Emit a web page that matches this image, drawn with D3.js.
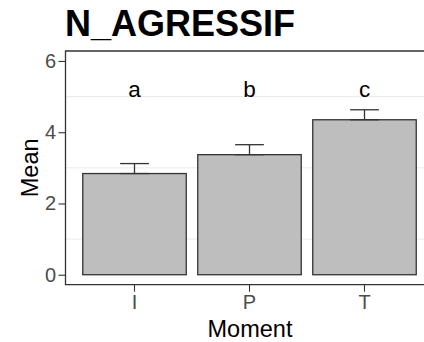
<!DOCTYPE html>
<html>
<head>
<meta charset="utf-8">
<script src="https://cdn.jsdelivr.net/npm/d3@7"></script>
<style>
  body { margin: 0; background: #fff; }
  text { font-family: "Liberation Sans", Arial, sans-serif; }
</style>
</head>
<body>
<svg id="chart" width="424" height="342"></svg>
<script>
// data
const moments = ["I", "P", "T"];
const means = [2.84, 3.37, 4.35];
const errors = [0.28, 0.28, 0.28];
const letters = ["a", "b", "c"];
const letterY = 5.2;
const yTicks = [0, 2, 4, 6];
const yMinor = [1, 3, 5];

const svg = d3.select("#chart");
const W = 424, H = 342;
const panel = { left: 65.5, top: 51, bottom: 284.7 };
const font = "Liberation Sans, Arial, sans-serif";

const x = d3.scaleBand()
    .domain(moments)
    .range([panel.left, panel.left + 368])
    .paddingInner(0.1)
    .paddingOuter(0.15);

const y = d3.scaleLinear()
    .domain([-0.28, 6.28])
    .range([panel.bottom, panel.top]);

// minor grid
svg.append("g")
    .selectAll("line")
    .data(yMinor)
    .join("line")
    .attr("x1", panel.left).attr("x2", W)
    .attr("y1", d => y(d)).attr("y2", d => y(d))
    .attr("stroke", "#ebebeb")
    .attr("stroke-width", 1);

// error bars (upper half, bar covers the rest)
const capW = x.step() * 0.25;
const eb = svg.append("g").attr("stroke", "#333").attr("stroke-width", 1.3).attr("fill", "none");
moments.forEach((m, i) => {
    const cx = x(m) + x.bandwidth() / 2;
    eb.append("line")
        .attr("x1", cx).attr("x2", cx)
        .attr("y1", y(means[i])).attr("y2", y(means[i] + errors[i]));
    eb.append("line")
        .attr("x1", cx - capW / 2).attr("x2", cx + capW / 2)
        .attr("y1", y(means[i] + errors[i])).attr("y2", y(means[i] + errors[i]));
});

// bars
svg.append("g")
    .selectAll("rect")
    .data(moments)
    .join("rect")
    .attr("x", d => x(d))
    .attr("width", x.bandwidth())
    .attr("y", (d, i) => y(means[i]))
    .attr("height", (d, i) => y(0) - y(means[i]))
    .attr("fill", "#bebebe")
    .attr("stroke", "#333")
    .attr("stroke-width", 1.3);

// lower caps sit on the bar tops
const caps = svg.append("g").attr("stroke", "#333").attr("stroke-width", 1.3);
moments.forEach((m, i) => {
    const cx = x(m) + x.bandwidth() / 2;
    caps.append("line")
        .attr("x1", cx - capW / 2).attr("x2", cx + capW / 2)
        .attr("y1", y(means[i])).attr("y2", y(means[i]));
});

// group letters
svg.append("g")
    .selectAll("text")
    .data(moments)
    .join("text")
    .attr("x", d => x(d) + x.bandwidth() / 2)
    .attr("y", y(letterY) + 7.5)
    .attr("text-anchor", "middle")
    .attr("font-size", 22.5)
    .attr("fill", "#000")
    .text((d, i) => letters[i]);

// panel border (left + top) and bottom line
svg.append("path")
    .attr("d", `M${W + 5},${panel.top}H${panel.left}V${panel.bottom}H${W + 5}`)
    .attr("fill", "none")
    .attr("stroke", "#333")
    .attr("stroke-width", 1.3);

// y axis
const yAxis = svg.append("g")
    .attr("transform", `translate(${panel.left},0)`)
    .call(d3.axisLeft(y).tickValues(yTicks).tickFormat(d3.format("d")).tickSize(7).tickPadding(2.5));
yAxis.select(".domain").remove();
yAxis.selectAll(".tick line").attr("stroke", "#333").attr("stroke-width", 1.1);
yAxis.selectAll(".tick text")
    .attr("font-size", 20)
    .attr("fill", "#4d4d4d")
    .attr("font-family", font);

// x axis
const xAxis = svg.append("g")
    .attr("transform", `translate(0,${panel.bottom})`)
    .call(d3.axisBottom(x).tickSize(7).tickPadding(3));
xAxis.select(".domain").remove();
xAxis.selectAll(".tick line").attr("stroke", "#333").attr("stroke-width", 1.1);
xAxis.selectAll(".tick text")
    .attr("font-size", 20)
    .attr("fill", "#4d4d4d")
    .attr("font-family", font);

// axis titles
svg.append("text")
    .attr("x", 250)
    .attr("y", 336.5)
    .attr("text-anchor", "middle")
    .attr("font-size", 23.5)
    .text("Moment");

svg.append("text")
    .attr("transform", `translate(38,${(panel.top + panel.bottom) / 2}) rotate(-90)`)
    .attr("text-anchor", "middle")
    .attr("font-size", 23.5)
    .text("Mean");

// title
svg.append("text")
    .attr("x", 65)
    .attr("y", 35.5)
    .attr("font-size", 36)
    .attr("font-weight", "bold")
    .text("N_AGRESSIF");
</script>
</body>
</html>
